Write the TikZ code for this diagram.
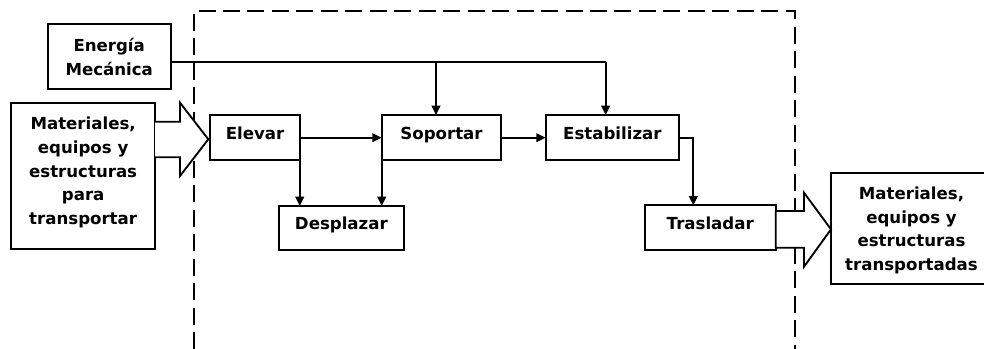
\documentclass[tikz,border=0pt]{standalone}
\usepackage{fontspec}
\setmainfont{DejaVu Sans}
\usetikzlibrary{arrows.meta}
\newdimen\pxu
\pxu=0.75pt
\tikzset{
  lbl/.style={font=\fontsize{12.45}{17.8}\selectfont\bfseries, inner sep=0pt, outer sep=0pt},
  boxA/.style={lbl, draw, line width=1.5pt, fill=white, align=center},
  small/.style={boxA, text height=9.1pt, text depth=6.6pt},
  multi/.style={boxA, text depth=0pt},
  arr/.style={line width=1.4pt, -{Triangle[length=7pt,width=6.5pt]}},
  plain/.style={line width=1.4pt},
  hollow/.style={draw, line width=1.4pt, fill=white, line join=miter},
  frame/.style={line width=1.5pt, dash pattern=on 12.75pt off 5.6pt}
}
\begin{document}
\begin{tikzpicture}[x=0.75pt,y=-0.75pt]
\useasboundingbox (0,0) rectangle (984,349);
% dashed system boundary
\draw[frame] (193.7,349) -- (193.7,11.3) -- (794.7,11.3) -- (794.7,349);

% boxes
\node[multi, minimum width=123\pxu, minimum height=65.3\pxu] (en) at (109.2,56.7) {Energía\\Mecánica};
\node[multi, text depth=7.9pt, minimum width=143.7\pxu, minimum height=146.6\pxu] (mat) at (83.15,176) {Materiales,\\equipos y\\estructuras\\para\\transportar};
\node[small, minimum width=89.4\pxu, minimum height=45.3\pxu] (elev) at (255,137.7) {Elevar};
\node[small, minimum width=119.6\pxu, minimum height=45.3\pxu] (sop) at (441.5,137.7) {Soportar};
\node[small, minimum width=133.3\pxu, minimum height=45.3\pxu] (est) at (612.35,137.7) {Estabilizar};
\node[small, minimum width=124.7\pxu, minimum height=44\pxu] (desp) at (341.35,228) {Desplazar};
\node[small, minimum width=131\pxu, minimum height=44.7\pxu] (tras) at (710.2,227.7) {Trasladar};
\node[multi, minimum width=161\pxu, minimum height=111\pxu] (out) at (911.5,228.8) {Materiales,\\equipos y\\estructuras\\transportadas};

% energy supply lines
\coordinate (ej) at (436,62);
\coordinate (ek) at (605.7,62);
\draw[plain] (en.east |- ej) -- (ek);
\draw[arr] (ek) -- (ek |- est.north);
\draw[arr] (ej) -- (ej |- sop.north);

% process flow
\draw[arr] (elev.east) -- (sop.west);
\draw[arr] (sop.east) -- (est.west);
\draw[arr] (elev.south east) -- (elev.south east |- desp.north);
\draw[arr] (sop.south west) -- (sop.south west |- desp.north);
\coordinate (tk) at (693.3,0);
\draw[arr] (est.east) -| (tras.north -| tk);

% hollow input arrow
\coordinate (tipin) at (208.3,139.3);
\draw[hollow] (mat.east |- 0,121.7) -- (180,121.7) -- (180,102.7) -- (tipin)
  -- (180,176) -- (180,157.3) -- (mat.east |- 0,157.3);
% hollow output arrow
\draw[hollow] (tras.east |- 0,211) -- (804,211) -- (804,192.7) -- (out.west |- 0,229.3)
  -- (804,266.7) -- (804,247.7) -- (tras.east |- 0,247.7) -- cycle;
\end{tikzpicture}
\end{document}
